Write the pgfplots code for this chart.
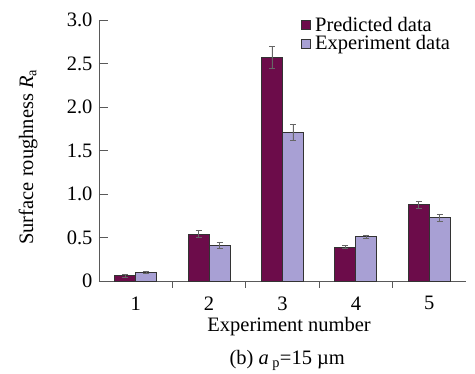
\documentclass[border=0pt]{standalone}
\usepackage{fontspec}
\setmainfont{Liberation Serif}
\usepackage{pgfplots}
\pgfplotsset{compat=1.18}
\usepackage{pgfplotstable}
\definecolor{pred}{RGB}{108,12,74}
\definecolor{expc}{RGB}{168,160,212}
\pgfplotstableread{
x pred perr exp eerr
1 0.06 0.015 0.10 0.015
2 0.54 0.04 0.41 0.03
3 2.57 0.13 1.71 0.09
4 0.39 0.02 0.51 0.02
5 0.88 0.04 0.73 0.04
}\datatable
\begin{document}
\begin{tikzpicture}
\path[use as bounding box] (-99pt,-93pt) rectangle (376pt,281pt);
\begin{axis}[
  at={(0,0)}, anchor=south west,
  scale only axis, width=367pt, height=261pt,
  font=\fontsize{20.5}{24}\selectfont,
  /pgf/number format/assume math mode=true,
  axis lines=left, axis line style={black!65, line width=0.7pt, -},
  xmin=0.5, xmax=5.5, ymin=0, ymax=3.0,
  xtick={1,2,3,4,5}, major x tick style={draw=none},
  minor xtick={1.5,2.5,3.5,4.5}, minor tick length=7pt,
  minor x tick style={black!65, line width=0.7pt},
  ytick={0,0.5,1.0,1.5,2.0,2.5,3.0},
  yticklabels={0,0.5,1.0,1.5,2.0,2.5,3.0},
  major tick length=9pt, tick align=inside,
  major y tick style={black!65, line width=0.7pt},
  x tick label style={yshift=-3pt},
  y tick label style={xshift=-3pt},
  ybar=0pt, bar width=21pt,
  xlabel={Experiment number},
  xlabel style={at={(axis description cs:0.518,-0.176)}, anchor=center},
  ylabel={Surface roughness \textit{R}\textsubscript{a}},
  ylabel style={at={(axis description cs:-0.193,0.475)}, anchor=center},
  legend cell align=left,
  legend style={draw=none, fill=none, at={(axis description cs:0.55,1.018)}, anchor=north west,
    inner sep=0pt, row sep=0pt, nodes={inner sep=1.5pt},
    /tikz/every odd column/.append style={column sep=3pt}},
  legend image code/.code={\draw[#1, draw=black!80, line width=0.6pt] (0pt,-4.5pt) rectangle (9pt,4.5pt);},
  clip=false,
]
\addplot[fill=pred, draw=black!80, line width=0.8pt,
  error bars/.cd, y dir=both, y explicit,
  error bar style={black!60, line width=0.7pt},
  error mark options={rotate=90, mark size=3pt, black!60, line width=0.7pt}]
  table[x=x, y=pred, y error=perr] {\datatable};
\addplot[fill=expc, draw=black!80, line width=0.8pt,
  error bars/.cd, y dir=both, y explicit,
  error bar style={black!60, line width=0.7pt},
  error mark options={rotate=90, mark size=3pt, black!60, line width=0.7pt}]
  table[x=x, y=exp, y error=eerr] {\datatable};
\legend{Predicted data, Experiment data}
\node[font=\fontsize{20.5}{24}\selectfont] at (axis description cs:0.513,-0.303) {(b) \textit{a}\,\textsubscript{p}=15 µm};
\end{axis}
\end{tikzpicture}
\end{document}
